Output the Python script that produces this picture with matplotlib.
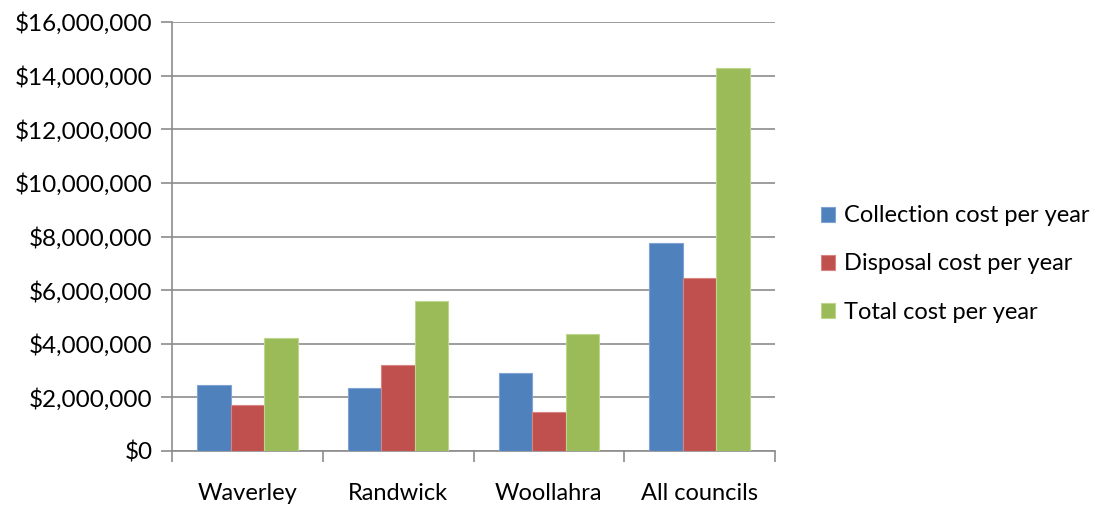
import matplotlib
matplotlib.use("Agg")
import matplotlib.pyplot as plt
import numpy as np
from matplotlib.ticker import FuncFormatter, MultipleLocator

categories = ["Waverley", "Randwick", "Woollahra", "All councils"]
series_names = ["Collection cost per year", "Disposal cost per year", "Total cost per year"]
collection = [2450000, 2350000, 2900000, 7760000]
disposal = [1730000, 3210000, 1460000, 6460000]
total = [4220000, 5610000, 4370000, 14300000]
colors = ["#4F81BD", "#C0504D", "#9BBB59"]
edges = ["#7FA3D3", "#D88482", "#BDD68C"]

plt.rcParams['font.family'] = ['Lato', 'DejaVu Sans']

fig = plt.figure(figsize=(11.03, 5.08), dpi=100)
ax = fig.add_axes([172/1103, 1 - 451/508, (775-172)/1103, (451-22)/508])

x = np.arange(len(categories))
w = 0.222
for i, (vals, c, ec) in enumerate(zip([collection, disposal, total], colors, edges)):
    ax.bar(x + (i - 1) * w, vals, width=w, color=c, edgecolor=ec, linewidth=0.8,
           label=series_names[i], zorder=3)

ax.set_xlim(-0.5, len(categories) - 0.5)
ax.set_ylim(0, 16000000)
ax.yaxis.set_major_locator(MultipleLocator(2000000))
ax.yaxis.set_major_formatter(FuncFormatter(lambda v, p: "${:,.0f}".format(v)))
ax.grid(axis='y', color='#8C8C8C', linewidth=1.2, zorder=0)
ax.set_axisbelow(True)

ax.set_xticks(x)
ax.set_xticklabels(categories)
ax.set_xticks(np.arange(len(categories) + 1) - 0.5, minor=True)
ax.tick_params(axis='x', which='major', length=0, pad=23, labelsize=17, colors='#000000')
ax.tick_params(axis='x', which='minor', length=8, width=1.2, color='#8C8C8C', direction='out')
ax.tick_params(axis='y', length=8, width=1.2, color='#8C8C8C', direction='out', labelsize=17.5, pad=6)

for s in ['top', 'right']:
    ax.spines[s].set_visible(False)
for s in ['left', 'bottom']:
    ax.spines[s].set_color('#8C8C8C')
    ax.spines[s].set_linewidth(1.2)

leg = fig.legend(loc='center left', bbox_to_anchor=(800/1103, 1 - 264/508), frameon=False,
                 fontsize=17, handlelength=0.6, handleheight=0.6, handletextpad=0.35,
                 labelspacing=1.15)

fig.savefig("out.png", dpi=100)
